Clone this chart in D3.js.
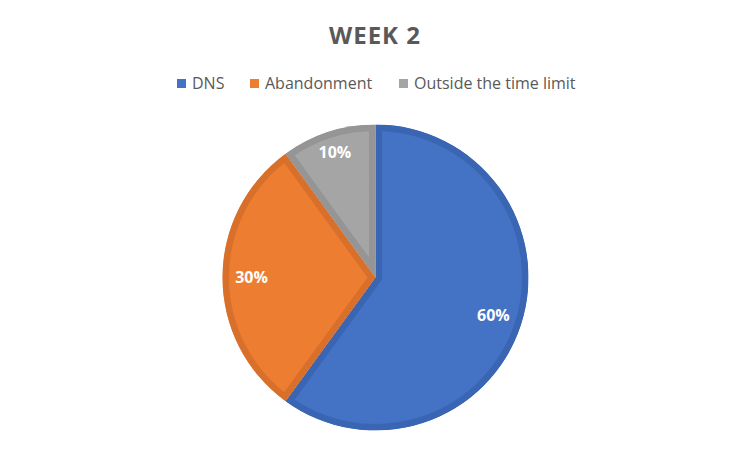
<!DOCTYPE html>
<html>
<head>
<meta charset="utf-8">
<script src="https://cdn.jsdelivr.net/npm/d3@7"></script>
<style>
  body { margin: 0; background: #fff; }
  text { font-family: "Open Sans", "Noto Sans", sans-serif; }
</style>
</head>
<body>
<div id="chart"></div>
<script>
// datos del grafico
var categorias = ["DNS", "Abandonment", "Outside the time limit"];
var valores = [60, 30, 10];

// colores (relleno y borde)
var colores = ["#4472C4", "#ED7D31", "#A5A5A5"];
var bordes = ["#3A65B3", "#D8702C", "#959595"];

var svgWidth = 750, svgHeight = 453;
var cx = 375.5, cy = 277.5, radio = 153;

var svg = d3.select("#chart")
  .append("svg")
    .attr("width", svgWidth)
    .attr("height", svgHeight);

// titulo
svg.append("text")
    .attr("x", svgWidth / 2)
    .attr("y", 44)
    .attr("text-anchor", "middle")
    .style("font-size", "24px")
    .style("font-weight", "bold")
    .style("letter-spacing", "1px")
    .style("fill", "#595959")
    .text("WEEK 2");

// leyenda
var leyendaX = [177, 250, 399];
var leyenda = svg.append("g");
categorias.forEach(function(c, i) {
  leyenda.append("rect")
      .attr("x", leyendaX[i])
      .attr("y", 79)
      .attr("width", 9)
      .attr("height", 9)
      .style("fill", colores[i]);
  leyenda.append("text")
      .attr("x", leyendaX[i] + 15)
      .attr("y", 88.5)
      .style("font-size", "16px")
      .style("fill", "#595959")
      .text(c);
});

// pie
var pie = d3.pie().sort(null).value(function(d) { return d; });
var arcos = pie(valores);
var arco = d3.arc().innerRadius(0).outerRadius(radio);

// posicion de etiquetas: un poco mas afuera en los sectores chicos
function posEtiqueta(d) {
  var ang = d.endAngle - d.startAngle;
  var r = ang < 1 ? radio * 0.86 : radio * 0.81;
  return d3.arc().innerRadius(r).outerRadius(r).centroid(d);
}

var g = svg.append("g")
    .attr("transform", "translate(" + cx + "," + cy + ")");

var defs = svg.append("defs");
arcos.forEach(function(d, i) {
  defs.append("clipPath")
      .attr("id", "clip" + i)
    .append("path")
      .attr("d", arco(d));
});

g.selectAll("path.slice")
  .data(arcos)
  .enter()
  .append("path")
    .attr("class", "slice")
    .attr("d", arco)
    .attr("clip-path", function(d, i) { return "url(#clip" + i + ")"; })
    .style("fill", function(d, i) { return colores[i]; })
    .style("stroke", function(d, i) { return bordes[i]; })
    .style("stroke-width", 13)
    .style("stroke-linejoin", "miter");

g.selectAll("text.etiqueta")
  .data(arcos)
  .enter()
  .append("text")
    .attr("class", "etiqueta")
    .attr("transform", function(d) { return "translate(" + posEtiqueta(d) + ")"; })
    .attr("text-anchor", "middle")
    .attr("dy", "0.35em")
    .style("font-size", "16px")
    .style("font-weight", "bold")
    .style("fill", "#fff")
    .text(function(d) { return d.data + "%"; });
</script>
</body>
</html>
